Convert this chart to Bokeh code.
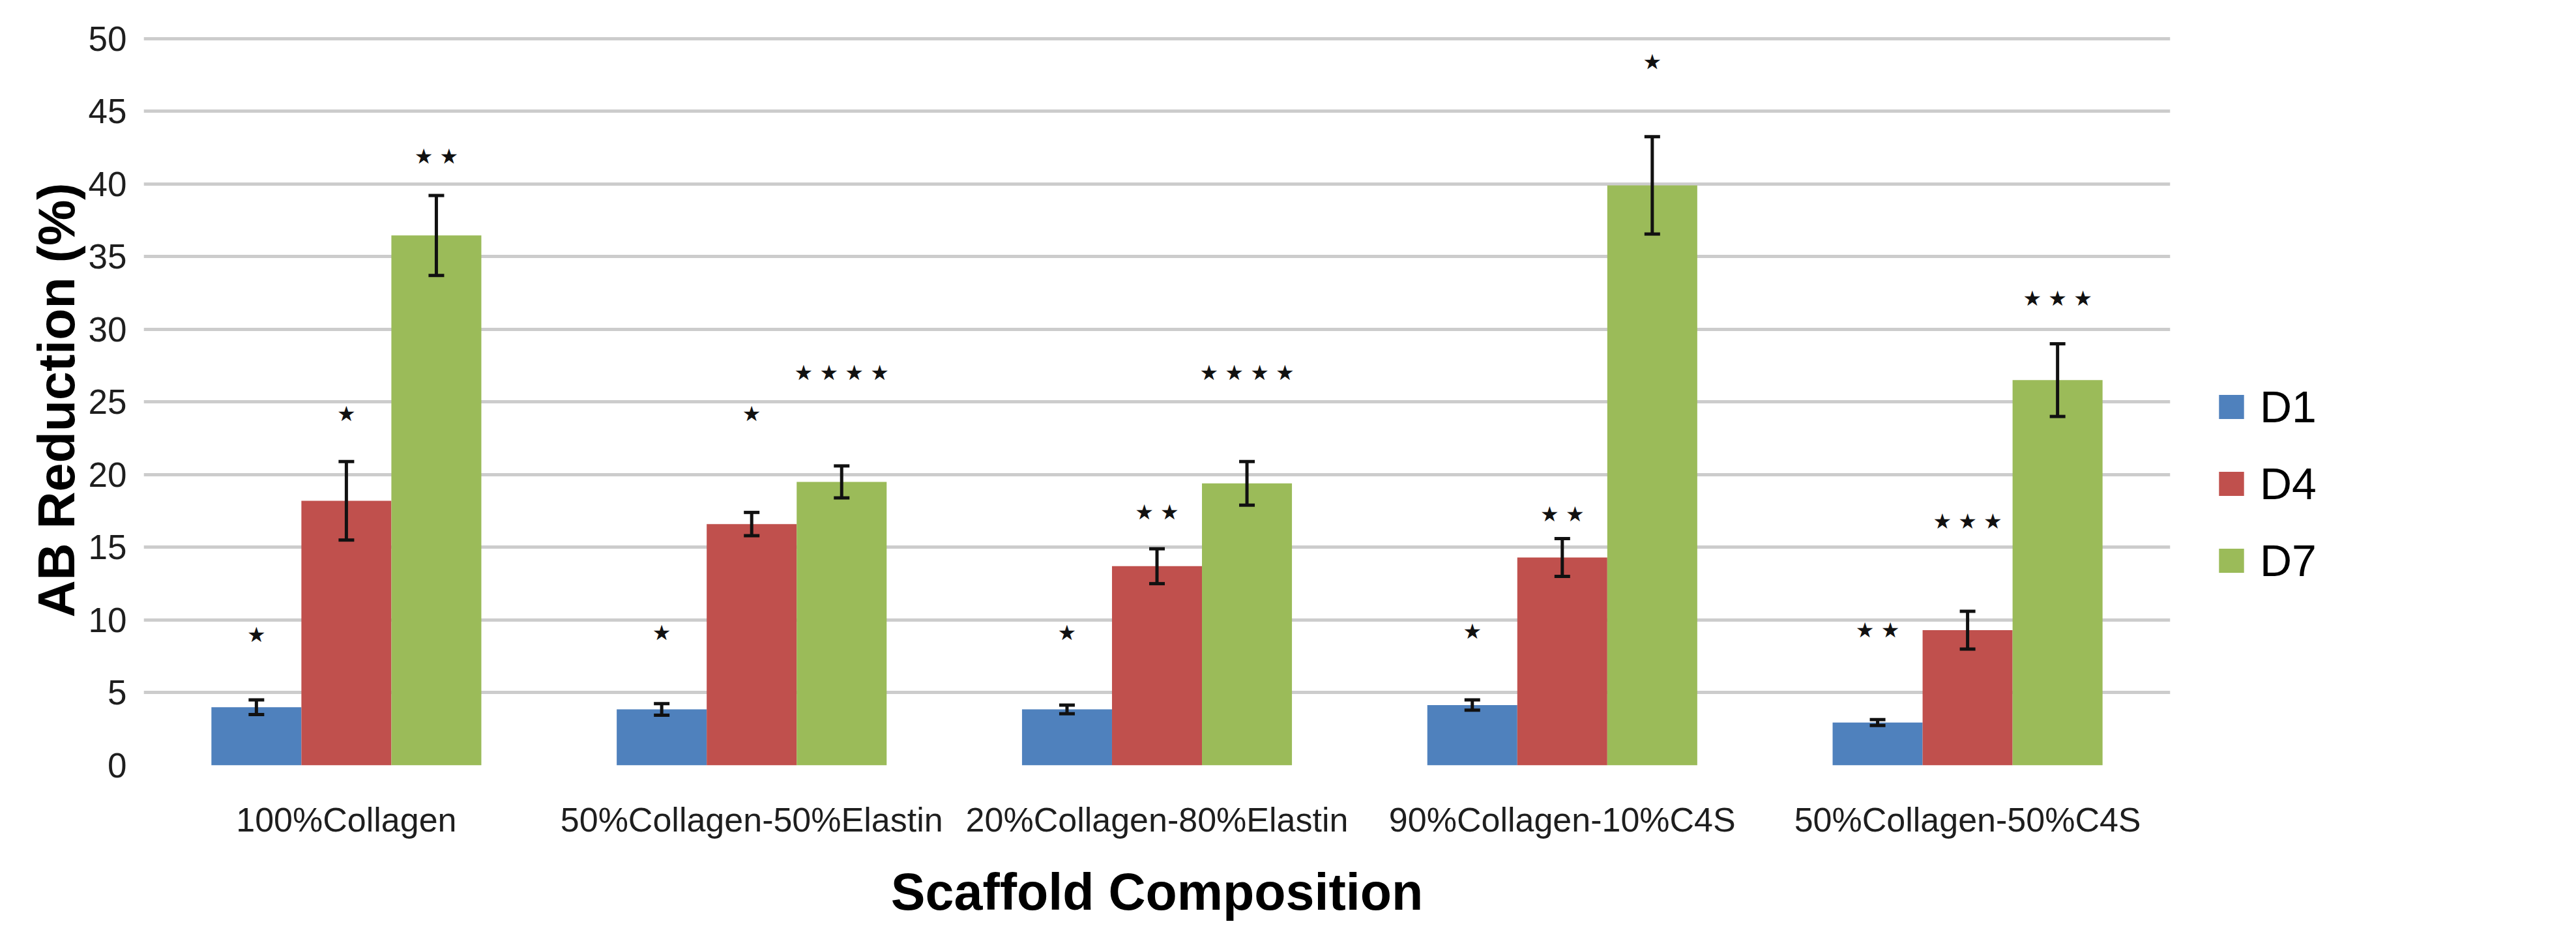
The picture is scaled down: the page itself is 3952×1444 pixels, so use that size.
from bokeh.plotting import figure
from bokeh.models import (ColumnDataSource, FactorRange, Range1d, FixedTicker,
                          Whisker, Legend, LegendItem, TeeHead)
from bokeh.transform import dodge
from bokeh.core.properties import value
from bokeh.embed import file_html
from bokeh.resources import INLINE

# ---------------- data ----------------
categories = ["100%Collagen", "50%Collagen-50%Elastin", "20%Collagen-80%Elastin",
              "90%Collagen-10%C4S", "50%Collagen-50%C4S"]
series = ["D1", "D4", "D7"]

d1 = [4.0, 3.85, 3.85, 4.15, 2.95]
d1_err = [0.5, 0.4, 0.3, 0.35, 0.2]
d4 = [18.2, 16.6, 13.7, 14.3, 9.3]
d4_err = [2.7, 0.8, 1.2, 1.3, 1.3]
d7 = [36.45, 19.5, 19.4, 39.9, 26.5]
d7_err = [2.75, 1.1, 1.5, 3.35, 2.5]

d1_sig = ["★", "★", "★", "★", "★ ★"]
d4_sig = ["★", "★", "★ ★", "★ ★", "★ ★ ★"]
d7_sig = ["★ ★", "★ ★ ★ ★", "★ ★ ★ ★", "★", "★ ★ ★"]
d1_sig_y = [9.0, 9.1, 9.1, 9.2, 9.3]
d4_sig_y = [24.2, 24.2, 17.4, 17.3, 16.8]
d7_sig_y = [41.9, 27.0, 27.0, 48.4, 32.1]

y_ticks = [0, 5, 10, 15, 20, 25, 30, 35, 40, 45, 50]
grid_ticks = [5, 10, 15, 20, 25, 30, 35, 40, 45, 50]

colors = ["#4F81BD", "#C0504D", "#9BBB59"]

src = ColumnDataSource(dict(
    cat=categories,
    d1=d1, d4=d4, d7=d7,
    d1_lo=[v - e for v, e in zip(d1, d1_err)], d1_hi=[v + e for v, e in zip(d1, d1_err)],
    d4_lo=[v - e for v, e in zip(d4, d4_err)], d4_hi=[v + e for v, e in zip(d4, d4_err)],
    d7_lo=[v - e for v, e in zip(d7, d7_err)], d7_hi=[v + e for v, e in zip(d7, d7_err)],
    d1_sig=d1_sig, d4_sig=d4_sig, d7_sig=d7_sig,
    d1_sig_y=d1_sig_y, d4_sig_y=d4_sig_y, d7_sig_y=d7_sig_y,
))

# ---------------- figure ----------------
p = figure(x_range=FactorRange(*categories), y_range=Range1d(0, 50.25),
           width=3936, height=1428, output_backend="svg", toolbar_location=None,
           min_border_left=220, min_border_right=255, min_border_top=53,
           min_border_bottom=254)
p.outline_line_color = None
p.background_fill_color = "white"
p.xgrid.grid_line_color = None
p.ygrid.grid_line_color = "#cccccc"
p.ygrid.grid_line_width = 5
p.ygrid[0].ticker = FixedTicker(ticks=grid_ticks)

p.yaxis.ticker = FixedTicker(ticks=y_ticks)
for ax in (p.xaxis, p.yaxis):
    ax.axis_line_color = None
    ax.major_tick_line_color = None
    ax.minor_tick_line_color = None
    ax.major_label_text_font = "Liberation Sans"
    ax.major_label_text_color = "#1e1e1e"
    ax.axis_label_text_font = "Liberation Sans"
    ax.axis_label_text_font_style = "bold"
    ax.axis_label_text_font_size = "79px"
    ax.axis_label_text_color = "black"

p.yaxis.major_label_text_font_size = "53px"
p.yaxis.major_label_standoff = 20
p.yaxis.axis_label = "AB Reduction (%)"
p.yaxis.axis_label_standoff = 2

p.xaxis.major_label_text_font_size = "52px"
p.xaxis.major_label_standoff = 48
p.xaxis.axis_label = "Scaffold Composition"
p.xaxis.axis_label_standoff = 34

w = 0.222
offsets = [-w, 0.0, w]
keys = ["d1", "d4", "d7"]
bars = []
for k, off, c in zip(keys, offsets, colors):
    r = p.vbar(x=dodge("cat", off, range=p.x_range), top=k, bottom=0, width=w,
               source=src, fill_color=c, line_color=None)
    bars.append(r)
for k, off in zip(keys, offsets):
    wh = Whisker(base=dodge("cat", off, range=p.x_range), upper=k + "_hi", lower=k + "_lo",
                 source=src, line_color="#111111", line_width=5, level="overlay",
                 upper_head=TeeHead(size=24, line_color="#111111", line_width=5),
                 lower_head=TeeHead(size=24, line_color="#111111", line_width=5))
    p.add_layout(wh)
    p.text(x=dodge("cat", off, range=p.x_range), y=k + "_sig_y", text=k + "_sig",
           source=src, text_align="center", text_baseline="middle",
           text_font=value("DejaVu Sans"), text_font_size="32px", text_color="#111111")

legend = Legend(items=[LegendItem(label=s, renderers=[r]) for s, r in zip(series, bars)],
                location=(70, 275), orientation="vertical")
legend.glyph_width = 48
legend.glyph_height = 46
legend.label_text_font = "Liberation Sans"
legend.label_text_font_size = "68px"
legend.label_text_color = "black"
legend.label_standoff = 20
legend.spacing = 40
legend.padding = 0
legend.margin = 0
legend.border_line_color = None
legend.background_fill_alpha = 0
p.add_layout(legend, "right")

open("out.html", "w").write(file_html(p, INLINE))
